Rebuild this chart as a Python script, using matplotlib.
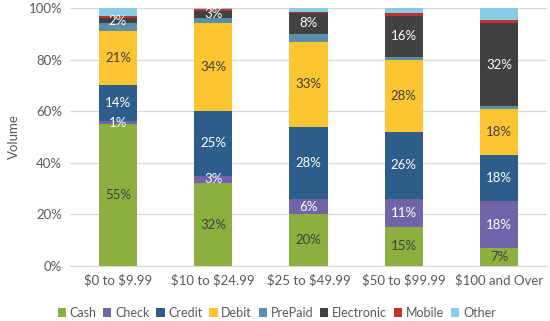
import matplotlib
matplotlib.use("Agg")
import matplotlib.pyplot as plt
from matplotlib.ticker import PercentFormatter
import numpy as np

plt.rcParams['font.family'] = ['Lato', 'DejaVu Sans']
plt.rcParams['text.parse_math'] = False

categories = ["$0 to $9.99", "$10 to $24.99", "$25 to $49.99", "$50 to $99.99", "$100 and Over"]
series_names = ["Cash", "Check", "Credit", "Debit", "PrePaid", "Electronic", "Mobile", "Other"]
cash = [55, 32, 20, 15, 7]
check = [1, 3, 6, 11, 18]
credit = [14, 25, 28, 26, 18]
debit = [21, 34, 33, 28, 18]
prepaid = [3, 2, 3, 1, 1]
electronic = [2, 3, 8, 16, 32]
mobile = [1, 0.5, 0.5, 1, 1.5]
other = [3, 0.5, 1.5, 2, 4.5]

values = [cash, check, credit, debit, prepaid, electronic, mobile, other]
colors = ["#8CB040", "#7065A9", "#2D5D8B", "#FDC532", "#5C8DA9", "#414141", "#C1312F", "#88CCE7"]
label_series = {"Cash": "#404040", "Check": "white", "Credit": "white", "Debit": "#404040", "Electronic": "white"}

fig = plt.figure(figsize=(5.5, 3.21), dpi=100)
ax = fig.add_axes([0.128, 0.172, 0.866, 0.803])

x = np.arange(len(categories))
bottom = np.zeros(len(categories))
for name, vals, col in zip(series_names, values, colors):
    v = np.array(vals, dtype=float)
    ax.bar(x, v, 0.4, bottom=bottom, color=col, label=name, zorder=3)
    if name in label_series:
        for xi, b, vi in zip(x, bottom, v):
            ax.text(xi, b + vi / 2, f"{round(vi):d}%", ha="center", va="center",
                    color=label_series[name], fontsize=9.5, zorder=4)
    bottom += v

ax.set_xlim(-0.5, len(categories) - 0.5)
ax.set_ylim(0, 100)
ax.set_yticks(np.arange(0, 101, 20))
ax.yaxis.set_major_formatter(PercentFormatter(decimals=0))
ax.grid(axis="y", color="#D9D9D9", linewidth=0.9, zorder=0)
for s in ["top", "right", "left"]:
    ax.spines[s].set_visible(False)
ax.spines["bottom"].set_color("#D9D9D9")
ax.tick_params(axis="both", length=0, labelsize=9.5, colors="#595959", pad=6)
ax.set_xticks(x)
ax.set_xticklabels(categories)
ax.set_ylabel("Volume", fontsize=9.5, color="#595959", labelpad=6)

handles, labels = ax.get_legend_handles_labels()
fig.legend(handles, labels, loc="center", bbox_to_anchor=(0.503, 0.025), ncol=8,
           frameon=False, fontsize=9.0, handlelength=0.65, handleheight=0.65,
           handletextpad=0.3, columnspacing=0.55, labelcolor="#595959")

fig.savefig("out.png", dpi=100)
